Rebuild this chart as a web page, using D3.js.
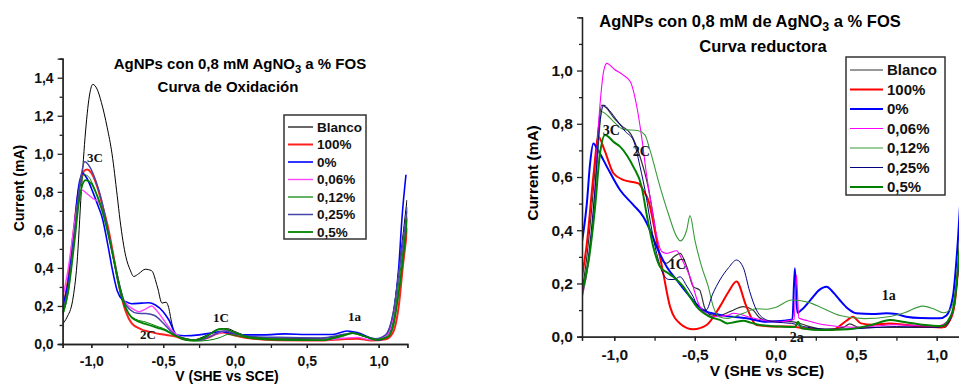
<!DOCTYPE html>
<html>
<head>
<meta charset="utf-8">
<script src="https://cdn.jsdelivr.net/npm/d3@7"></script>
<style>
  body { margin: 0; background: #fff; }
  svg { font-family: "Liberation Sans", Arial, sans-serif; font-weight: bold; }
</style>
</head>
<body>
<svg id="chart" width="959" height="389"></svg>
<script>
// legend entries (same order for both panels)
let legendLabels = ["Blanco", "100%", "0%", "0,06%", "0,12%", "0,25%", "0,5%"];

// ---- left panel: Curva de Oxidación, points are [V, mA] ----
let oxBlanco = [[-1.2,0.105],[-1.17,0.14],[-1.13,0.23],[-1.1,0.42],[-1.07,0.8],[-1.04,1.12],[-1.01,1.32],[-0.99,1.365],[-0.96,1.34],[-0.93,1.27],[-0.89,1.14],[-0.856,1.0],[-0.82,0.78],[-0.8,0.65],[-0.76,0.46],[-0.73,0.39],[-0.705,0.355],[-0.67,0.37],[-0.624,0.393],[-0.58,0.385],[-0.54,0.3],[-0.508,0.215],[-0.48,0.22],[-0.465,0.2],[-0.44,0.11],[-0.415,0.047],[-0.38,0.03],[-0.3,0.02],[-0.2,0.045],[-0.1,0.08],[-0.05,0.08],[0.0,0.065],[0.1,0.04],[0.3,0.03],[0.6,0.03],[0.75,0.045],[0.82,0.058],[0.9,0.04],[0.98,0.025],[1.05,0.05],[1.1,0.16],[1.15,0.45],[1.197,0.757]];
let ox100 = [[-1.2,0.19],[-1.17,0.3],[-1.13,0.55],[-1.09,0.8],[-1.05,0.91],[-1.03,0.918],[-1.0,0.9],[-0.96,0.83],[-0.92,0.72],[-0.88,0.6],[-0.84,0.44],[-0.8,0.28],[-0.76,0.17],[-0.72,0.11],[-0.66,0.08],[-0.6,0.065],[-0.5,0.05],[-0.42,0.04],[-0.35,0.025],[-0.28,0.02],[-0.2,0.03],[-0.12,0.055],[-0.08,0.06],[0.0,0.045],[0.1,0.03],[0.3,0.02],[0.6,0.018],[0.75,0.025],[0.85,0.028],[0.95,0.018],[1.05,0.025],[1.1,0.06],[1.14,0.2],[1.17,0.42],[1.2,0.61]];
let ox0 = [[-1.2,0.196],[-1.16,0.33],[-1.12,0.6],[-1.09,0.82],[-1.06,0.897],[-1.03,0.87],[-0.99,0.8],[-0.95,0.72],[-0.926,0.669],[-0.88,0.5],[-0.856,0.4],[-0.82,0.28],[-0.78,0.23],[-0.76,0.222],[-0.72,0.212],[-0.65,0.215],[-0.6,0.217],[-0.554,0.205],[-0.5,0.17],[-0.46,0.126],[-0.404,0.047],[-0.35,0.043],[-0.25,0.048],[-0.15,0.06],[-0.1,0.065],[-0.03,0.058],[0.05,0.048],[0.2,0.048],[0.35,0.053],[0.5,0.05],[0.68,0.05],[0.78,0.068],[0.85,0.06],[0.95,0.03],[1.0,0.021],[1.058,0.047],[1.093,0.109],[1.117,0.231],[1.14,0.406],[1.163,0.669],[1.19,0.89]];
let ox006 = [[-1.2,0.24],[-1.16,0.4],[-1.12,0.62],[-1.09,0.76],[-1.065,0.81],[-1.03,0.79],[-0.99,0.765],[-0.95,0.745],[-0.9,0.64],[-0.86,0.5],[-0.82,0.36],[-0.78,0.24],[-0.74,0.2],[-0.7,0.18],[-0.67,0.17],[-0.62,0.185],[-0.58,0.2],[-0.55,0.18],[-0.5,0.13],[-0.45,0.08],[-0.4,0.045],[-0.35,0.03],[-0.28,0.02],[-0.18,0.04],[-0.1,0.06],[-0.06,0.07],[0.0,0.06],[0.1,0.035],[0.3,0.025],[0.6,0.022],[0.75,0.03],[0.85,0.035],[0.95,0.022],[1.05,0.04],[1.1,0.13],[1.15,0.42],[1.2,0.7]];
let ox012 = [[-1.2,0.15],[-1.16,0.28],[-1.12,0.55],[-1.08,0.82],[-1.05,0.89],[-1.02,0.88],[-0.98,0.82],[-0.94,0.74],[-0.9,0.64],[-0.86,0.5],[-0.82,0.34],[-0.78,0.22],[-0.74,0.16],[-0.69,0.13],[-0.62,0.115],[-0.55,0.095],[-0.48,0.075],[-0.42,0.045],[-0.35,0.02],[-0.28,0.015],[-0.18,0.02],[-0.1,0.035],[-0.05,0.05],[0.0,0.045],[0.1,0.03],[0.3,0.02],[0.6,0.02],[0.75,0.04],[0.82,0.055],[0.9,0.04],[0.98,0.022],[1.06,0.04],[1.1,0.11],[1.15,0.38],[1.2,0.67]];
let ox025 = [[-1.2,0.17],[-1.16,0.3],[-1.12,0.56],[-1.08,0.84],[-1.046,0.958],[-1.01,0.93],[-0.97,0.86],[-0.93,0.76],[-0.89,0.62],[-0.85,0.47],[-0.81,0.33],[-0.77,0.22],[-0.73,0.18],[-0.68,0.162],[-0.62,0.16],[-0.56,0.15],[-0.5,0.11],[-0.45,0.07],[-0.4,0.04],[-0.33,0.025],[-0.25,0.02],[-0.17,0.04],[-0.08,0.068],[0.0,0.055],[0.1,0.04],[0.3,0.035],[0.6,0.032],[0.75,0.05],[0.82,0.058],[0.9,0.04],[0.98,0.028],[1.05,0.05],[1.1,0.16],[1.15,0.43],[1.2,0.72]];
let ox05 = [[-1.2,0.155],[-1.16,0.28],[-1.12,0.52],[-1.08,0.78],[-1.04,0.862],[-1.0,0.845],[-0.96,0.78],[-0.92,0.69],[-0.88,0.57],[-0.84,0.43],[-0.8,0.29],[-0.76,0.19],[-0.72,0.14],[-0.66,0.115],[-0.6,0.1],[-0.54,0.085],[-0.48,0.07],[-0.42,0.045],[-0.36,0.03],[-0.28,0.02],[-0.2,0.04],[-0.12,0.075],[-0.08,0.08],[0.0,0.06],[0.1,0.035],[0.3,0.025],[0.6,0.02],[0.75,0.045],[0.82,0.057],[0.9,0.042],[0.98,0.022],[1.06,0.035],[1.1,0.09],[1.15,0.33],[1.2,0.66]];
let oxPeaks = [["3C",-1.03,0.958],["2C",-0.661,0.026],["1C",-0.153,0.116],["1a",0.786,0.121]];

// ---- right panel: Curva reductora ----
let redBlanco = [[-1.2,0.17],[-1.17,0.3],[-1.13,0.55],[-1.1,0.78],[-1.077,0.87],[-1.05,0.86],[-1.0,0.82],[-0.95,0.79],[-0.9,0.764],[-0.84,0.676],[-0.79,0.563],[-0.757,0.45],[-0.716,0.3],[-0.675,0.276],[-0.63,0.3],[-0.592,0.313],[-0.55,0.263],[-0.51,0.188],[-0.47,0.175],[-0.44,0.11],[-0.4,0.082],[-0.345,0.08],[-0.28,0.095],[-0.2,0.113],[-0.14,0.1],[-0.097,0.07],[-0.05,0.06],[0.05,0.058],[0.12,0.055],[0.2,0.04],[0.3,0.028],[0.42,0.035],[0.46,0.048],[0.52,0.035],[0.7,0.035],[0.9,0.035],[1.05,0.035],[1.08,0.06],[1.11,0.12],[1.133,0.26],[1.16,0.5]];
let red100 = [[-1.2,0.225],[-1.17,0.35],[-1.13,0.6],[-1.098,0.751],[-1.06,0.7],[-1.005,0.614],[-0.944,0.589],[-0.85,0.576],[-0.82,0.55],[-0.789,0.513],[-0.737,0.363],[-0.696,0.238],[-0.654,0.113],[-0.593,0.05],[-0.51,0.028],[-0.427,0.044],[-0.345,0.113],[-0.29,0.17],[-0.242,0.207],[-0.18,0.113],[-0.118,0.044],[0.027,0.038],[0.089,0.038],[0.2,0.03],[0.35,0.025],[0.44,0.06],[0.48,0.075],[0.53,0.05],[0.6,0.045],[0.71,0.05],[0.8,0.045],[0.91,0.038],[1.03,0.035],[1.08,0.06],[1.11,0.12],[1.133,0.26],[1.16,0.5]];
let red0 = [[-1.2,0.357],[-1.17,0.5],[-1.15,0.65],[-1.13,0.726],[-1.1,0.7],[-1.046,0.639],[-0.964,0.551],[-0.882,0.495],[-0.82,0.451],[-0.778,0.4],[-0.737,0.338],[-0.675,0.263],[-0.613,0.213],[-0.53,0.15],[-0.448,0.1],[-0.345,0.082],[-0.18,0.069],[-0.056,0.056],[0.05,0.06],[0.105,0.065],[0.12,0.257],[0.135,0.09],[0.16,0.1],[0.22,0.14],[0.27,0.175],[0.316,0.188],[0.36,0.165],[0.398,0.138],[0.45,0.105],[0.5,0.088],[0.6,0.085],[0.687,0.088],[0.75,0.085],[0.81,0.075],[0.9,0.07],[1.017,0.069],[1.06,0.08],[1.1,0.15],[1.131,0.36],[1.16,0.65]];
let red006 = [[-1.2,0.144],[-1.16,0.28],[-1.13,0.46],[-1.09,0.86],[-1.065,1.0],[-1.046,1.027],[-1.0,1.005],[-0.944,0.983],[-0.9,0.958],[-0.86,0.864],[-0.83,0.75],[-0.8,0.61],[-0.768,0.488],[-0.737,0.38],[-0.706,0.32],[-0.675,0.313],[-0.613,0.323],[-0.58,0.29],[-0.53,0.225],[-0.469,0.113],[-0.386,0.075],[-0.3,0.08],[-0.26,0.088],[-0.14,0.07],[0.027,0.055],[0.1,0.063],[0.115,0.065],[0.13,0.232],[0.145,0.07],[0.2,0.06],[0.3,0.045],[0.5,0.035],[0.75,0.045],[1.0,0.04],[1.08,0.065],[1.11,0.13],[1.133,0.26],[1.16,0.5]];
let red012 = [[-1.2,0.15],[-1.16,0.28],[-1.12,0.52],[-1.1,0.7],[-1.077,0.845],[-1.04,0.83],[-1.005,0.808],[-0.944,0.779],[-0.85,0.774],[-0.81,0.758],[-0.778,0.7],[-0.716,0.563],[-0.665,0.463],[-0.613,0.376],[-0.59,0.36],[-0.551,0.4],[-0.53,0.455],[-0.5,0.363],[-0.458,0.263],[-0.417,0.188],[-0.386,0.113],[-0.35,0.075],[-0.3,0.069],[-0.2,0.088],[-0.12,0.105],[-0.05,0.103],[0.0,0.11],[0.1,0.138],[0.2,0.13],[0.3,0.105],[0.4,0.08],[0.55,0.068],[0.7,0.075],[0.8,0.09],[0.914,0.115],[0.98,0.105],[1.04,0.09],[1.08,0.1],[1.11,0.15],[1.133,0.27],[1.16,0.5]];
let red025 = [[-1.2,0.16],[-1.16,0.3],[-1.12,0.55],[-1.09,0.8],[-1.065,0.87],[-1.03,0.85],[-0.98,0.81],[-0.93,0.77],[-0.882,0.739],[-0.84,0.639],[-0.8,0.52],[-0.778,0.438],[-0.737,0.313],[-0.7,0.24],[-0.66,0.215],[-0.63,0.215],[-0.592,0.225],[-0.55,0.19],[-0.51,0.15],[-0.47,0.1],[-0.43,0.1],[-0.39,0.16],[-0.345,0.213],[-0.29,0.26],[-0.242,0.288],[-0.2,0.26],[-0.16,0.17],[-0.118,0.1],[-0.056,0.063],[0.0,0.055],[0.1,0.05],[0.2,0.035],[0.35,0.028],[0.5,0.03],[0.75,0.038],[1.0,0.035],[1.06,0.045],[1.1,0.1],[1.133,0.25],[1.16,0.5]];
let red05 = [[-1.2,0.17],[-1.16,0.28],[-1.12,0.48],[-1.09,0.68],[-1.057,0.758],[-1.0,0.73],[-0.964,0.714],[-0.92,0.68],[-0.882,0.639],[-0.83,0.563],[-0.8,0.463],[-0.758,0.338],[-0.716,0.263],[-0.67,0.24],[-0.634,0.225],[-0.572,0.188],[-0.53,0.15],[-0.489,0.113],[-0.407,0.075],[-0.345,0.063],[-0.3,0.05],[-0.25,0.055],[-0.2,0.06],[-0.15,0.052],[-0.097,0.044],[0.027,0.038],[0.12,0.036],[0.14,0.056],[0.16,0.032],[0.3,0.025],[0.45,0.028],[0.6,0.045],[0.71,0.063],[0.8,0.055],[0.91,0.045],[1.03,0.04],[1.08,0.07],[1.11,0.13],[1.133,0.27],[1.16,0.5]];
let redPeaks = [["3C",-1.071,0.758],["2C",-0.885,0.679],["1C",-0.662,0.254],["1a",0.659,0.139],["2a",0.089,-0.02]];

let fmt = d => d3.format(".1f")(d).replace(".", ",").replace("\u2212", "-");

function drawPanel(cfg) {
    let svg = d3.select("#chart");
    let x = d3.scaleLinear().domain([-1.2, 1.2]).range(cfg.xRange);
    let y = d3.scaleLinear().domain([0, cfg.yMax]).range(cfg.yRange);
    let g = svg.append("g");

    // clip so curves stop at the axes
    let clipId = "clip-" + cfg.id;
    svg.append("clipPath").attr("id", clipId).append("rect")
        .attr("x", cfg.xRange[0]).attr("y", cfg.yRange[1] - 5)
        .attr("width", cfg.xRange[1] - cfg.xRange[0])
        .attr("height", cfg.yRange[0] - cfg.yRange[1] + 5);

    let line = d3.line().x(d => x(d[0])).y(d => y(d[1])).curve(d3.curveMonotoneX);
    g.append("g").attr("clip-path", "url(#" + clipId + ")")
        .selectAll("path").data(cfg.series).enter().append("path")
        .attr("d", d => line(d.values))
        .attr("fill", "none")
        .attr("stroke", d => d.color)
        .attr("stroke-width", d => d.width);

    // x axis: minor ticks every 0.25, labels every 0.5
    let xMinor = d3.axisBottom(x).tickValues(d3.range(-1, 1.01, 0.25)).tickSize(4).tickFormat("");
    let xMajor = d3.axisBottom(x).tickValues([-1, -0.5, 0, 0.5, 1]).tickSize(4)
        .tickPadding(cfg.xPad).tickFormat(fmt);
    let yMinor = d3.axisLeft(y).tickValues(d3.range(0.1, cfg.yMax + 0.01, 0.2)).tickSize(3).tickFormat("");
    let yMajor = d3.axisLeft(y).tickValues(d3.range(0, cfg.yMax - 0.05, 0.2)).tickSize(5)
        .tickPadding(4).tickFormat(fmt);

    [xMinor, xMajor].forEach(a => g.append("g").attr("transform", "translate(0," + cfg.yRange[0] + ")").call(a));
    [yMinor, yMajor].forEach(a => g.append("g").attr("transform", "translate(" + cfg.xRange[0] + ",0)").call(a));
    g.selectAll(".domain, .tick line").attr("stroke", "#222").attr("stroke-width", 1.3);
    g.selectAll(".tick text").attr("fill", "#111").style("font-size", cfg.tickSize + "px")
        .style("font-family", '"Liberation Sans", Arial, sans-serif').style("font-weight", "bold");

    // axis titles
    g.append("text").attr("x", cfg.xTitle[0]).attr("y", cfg.xTitle[1]).attr("text-anchor", "middle")
        .style("font-size", cfg.labelSize + "px").text("V (SHE vs SCE)");
    g.append("text").attr("transform", "translate(" + cfg.yTitle[0] + "," + cfg.yTitle[1] + ") rotate(-90)")
        .attr("text-anchor", "middle").style("font-size", cfg.labelSize + "px").text("Current (mA)");

    // two line title with subscript
    let t1 = g.append("text").attr("x", cfg.title1[0]).attr("y", cfg.title1[1]).attr("text-anchor", "middle")
        .style("font-size", cfg.titleSize + "px");
    t1.append("tspan").text(cfg.titleText);
    t1.append("tspan").attr("dy", 4).style("font-size", (cfg.titleSize * 0.75) + "px").text("3");
    t1.append("tspan").attr("dy", -4).text(" a % FOS");
    g.append("text").attr("x", cfg.title2[0]).attr("y", cfg.title2[1]).attr("text-anchor", "middle")
        .style("font-size", cfg.titleSize + "px").text(cfg.subtitle);

    // peak labels
    g.selectAll(".peak").data(cfg.peaks).enter().append("text")
        .attr("x", d => x(d[1])).attr("y", d => y(d[2]))
        .style("font-family", '"Liberation Serif", "Times New Roman", serif')
        .style("font-size", cfg.peakSize + "px").attr("fill", "#111").text(d => d[0]);

    // legend
    let L = cfg.legend;
    g.append("rect").attr("x", L.x).attr("y", L.y).attr("width", L.w).attr("height", L.h)
        .attr("fill", "#fff").attr("stroke", "#333").attr("stroke-width", 1.5);
    let items = g.selectAll(".leg").data(cfg.series).enter().append("g")
        .attr("transform", (d, i) => "translate(" + (L.x + 4) + "," + (L.y + L.first + i * L.step) + ")");
    items.append("line").attr("x1", 0).attr("x2", L.len).attr("stroke", d => d.color)
        .attr("stroke-width", d => Math.max(d.width, 1.2));
    items.append("text").attr("x", L.len + 4).attr("dy", "0.35em")
        .style("font-size", L.size + "px").attr("fill", "#111").text((d, i) => legendLabels[i]);
}

drawPanel({
    id: "ox", xRange: [62.6, 407.4], yRange: [344, 58.7], yMax: 1.5,
    xPad: 8, tickSize: 14, labelSize: 14, titleSize: 15, peakSize: 13,
    xTitle: [227, 381], yTitle: [24, 188],
    titleText: "AgNPs con 0,8 mM AgNO", title1: [240, 69], subtitle: "Curva de Oxidación", title2: [228, 91.5],
    peaks: oxPeaks,
    legend: { x: 284, y: 115, w: 82, h: 124, first: 12, step: 17.5, len: 25, size: 13.5 },
    series: [
        { values: oxBlanco, color: "#000000", width: 1 },
        { values: ox100, color: "#ff2020", width: 2 },
        { values: ox0, color: "#0000ff", width: 1.6 },
        { values: ox006, color: "#ff44ff", width: 1.4 },
        { values: ox012, color: "#008000", width: 1 },
        { values: ox025, color: "#4646a8", width: 1.5 },
        { values: ox05, color: "#008000", width: 1.8 }
    ]
});

drawPanel({
    id: "red", xRange: [582, 969], yRange: [336.7, 17.3], yMax: 1.2,
    xPad: 8, tickSize: 15.5, labelSize: 15.5, titleSize: 16.5, peakSize: 14,
    xTitle: [767, 376], yTitle: [538, 173],
    titleText: "AgNPs con 0,8 mM de AgNO", title1: [750, 26.5], subtitle: "Curva reductora", title2: [763, 51.5],
    peaks: redPeaks,
    legend: { x: 846, y: 57, w: 99, h: 138, first: 13, step: 19.5, len: 33, size: 15 },
    series: [
        { values: redBlanco, color: "#333333", width: 1.2 },
        { values: red100, color: "#ff0000", width: 2 },
        { values: red0, color: "#0000ff", width: 2 },
        { values: red006, color: "#ff00ff", width: 1.1 },
        { values: red012, color: "#3a9a3a", width: 1.1 },
        { values: red025, color: "#000080", width: 1 },
        { values: red05, color: "#008000", width: 2 }
    ]
});
</script>
</body>
</html>
